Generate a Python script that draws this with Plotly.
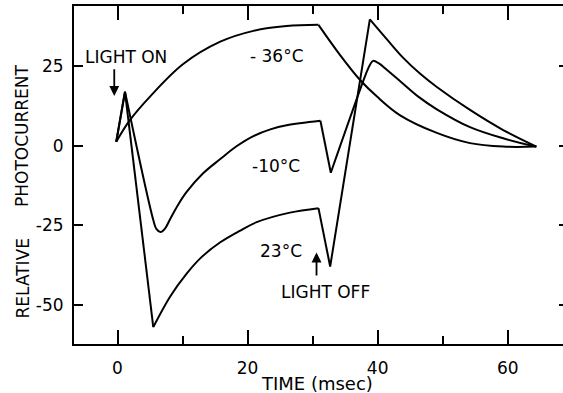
import plotly.graph_objects as go

# ---------------- data ----------------
t_m36 = [-0.2, 1.9, 5.0, 10.1, 15.8, 20.9, 26.0, 30.9, 34.2, 37.3, 39.9, 43.4, 49.1, 54.2, 59.3, 64.4]
r_m36 = [1.2, 8.0, 15.4, 25.6, 32.6, 36.0, 37.5, 37.9, 28.5, 20.6, 15.4, 9.6, 4.0, 0.8, -0.3, -0.3]

t_m10 = [-0.2, 1.15, 5.5, 6.0, 6.6, 7.3, 8.1, 9.3, 10.6, 13.2, 15.8, 18.3, 20.9, 23.5, 26.0, 31.2,
         32.8, 38.2, 38.8, 39.3, 40.2, 41.4, 43.6, 46.3, 49.1, 54.2, 59.3, 64.4]
r_m10 = [1.2, 16.9, -23.3, -26.2, -27.1, -26.0, -23.0, -18.6, -14.6, -8.6, -4.2, -0.2, 3.0, 5.1, 6.4, 7.8,
         -8.5, 22.5, 25.3, 26.6, 25.8, 23.8, 20.0, 15.3, 11.4, 5.8, 2.3, -0.3]

t_p23 = [-0.2, 1.15, 5.5, 8.1, 10.6, 13.0, 15.8, 18.8, 21.4, 26.5, 30.9,
         32.7, 38.8, 41.4, 43.9, 46.5, 49.1, 54.2, 59.3, 64.4]
r_p23 = [1.2, 16.9, -56.9, -47.3, -40.2, -34.8, -30.3, -26.7, -24.0, -21.0, -19.6,
         -37.9, 39.6, 33.4, 27.6, 22.6, 18.4, 11.2, 4.9, -0.3]

# indices of sharp corners (curve drawn smooth between them)
corners_m36 = [0, 7, 15]
corners_m10 = [0, 1, 15, 16, 27]
corners_p23 = [0, 1, 2, 10, 11, 12, 19]

x_ticks = [0, 20, 40, 60]
x_ticktext = ["0", "20", "40", "60"]
x_minor = [10, 30, 50]
y_ticks = [25, 0, -25, -50]
y_ticktext = ["25", "0", "-25", "-50"]

FONT = "DejaVu Sans"

fig = go.Figure()


def add_curve(t, r, corners):
    for a, b in zip(corners[:-1], corners[1:]):
        fig.add_trace(go.Scatter(
            x=t[a:b + 1], y=r[a:b + 1], mode="lines",
            line=dict(color="black", width=2, shape="spline", smoothing=1.0),
            showlegend=False, hoverinfo="skip"))


add_curve(t_m36, r_m36, corners_m36)
add_curve(t_m10, r_m10, corners_m10)
add_curve(t_p23, r_p23, corners_p23)

# invisible trace for right-hand tick axis
fig.add_trace(go.Scatter(x=[None], y=[None], yaxis="y2", showlegend=False))

XR = [-6.69, 68.5]
YR = [-62.2, 43.8]

fig.update_layout(
    width=563, height=393,
    margin=dict(l=74, r=0, t=6, b=49),
    paper_bgcolor="white", plot_bgcolor="white",
    font=dict(family=FONT, size=17, color="black"),
    xaxis=dict(range=XR, showgrid=False, zeroline=False,
               showline=True, linewidth=2, linecolor="black", mirror="ticks",
               ticks="inside", ticklen=14, tickwidth=2, tickcolor="black",
               tickvals=x_ticks, ticktext=x_ticktext,
               minor=dict(tickvals=x_minor, ticks="inside", ticklen=8, tickwidth=2, tickcolor="black"),
               tickfont=dict(family=FONT, size=17), ticklabelstandoff=8),
    yaxis=dict(range=YR, showgrid=False, zeroline=False,
               showline=True, linewidth=2, linecolor="black",
               ticks="inside", ticklen=9, tickwidth=2, tickcolor="black",
               tickvals=y_ticks, ticktext=y_ticktext,
               tickfont=dict(family=FONT, size=17), ticklabelstandoff=5),
    yaxis2=dict(range=YR, overlaying="y", side="right", showgrid=False, zeroline=False,
                showline=False, ticks="inside", ticklen=4, tickwidth=2, tickcolor="black",
                tickvals=y_ticks, showticklabels=False),
)

txt = dict(showarrow=False, font=dict(family=FONT, size=17, color="black"),
           xref="x", yref="y", xanchor="center", yanchor="middle")
fig.add_annotation(text="LIGHT ON", x=1.38, y=27.8, **txt)
fig.add_annotation(text="- 36°C", x=24.5, y=28.0, **txt)
fig.add_annotation(text="-10°C", x=24.4, y=-6.4, **txt)
fig.add_annotation(text="23°C", x=25.1, y=-33.0, **txt)
fig.add_annotation(text="LIGHT OFF", x=32.0, y=-46.0, **txt)

arrow = dict(showarrow=True, text="", xref="x", yref="y", axref="x", ayref="y",
             arrowhead=2, arrowsize=1.1, arrowwidth=1.8, arrowcolor="black", standoff=0)
fig.add_annotation(x=-0.5, y=15.6, ax=-0.5, ay=24.4, **arrow)
fig.add_annotation(x=30.6, y=-33.5, ax=30.6, ay=-41.2, **arrow)

# axis titles
fig.add_annotation(text="TIME (msec)", xref="paper", yref="paper",
                   x=(317 - 74) / 489, y=0, yshift=-39, showarrow=False,
                   xanchor="center", yanchor="middle",
                   font=dict(family=FONT, size=18))
fig.add_annotation(text="PHOTOCURRENT", xref="paper", yref="paper",
                   x=0, xshift=-52, y=(344 - 136) / 338, textangle=-90, showarrow=False,
                   xanchor="center", yanchor="middle",
                   font=dict(family=FONT, size=17))
fig.add_annotation(text="RELATIVE", xref="paper", yref="paper",
                   x=0, xshift=-52, y=(344 - 278.5) / 338, textangle=-90, showarrow=False,
                   xanchor="center", yanchor="middle",
                   font=dict(family=FONT, size=17))

fig.write_html("out.html")
